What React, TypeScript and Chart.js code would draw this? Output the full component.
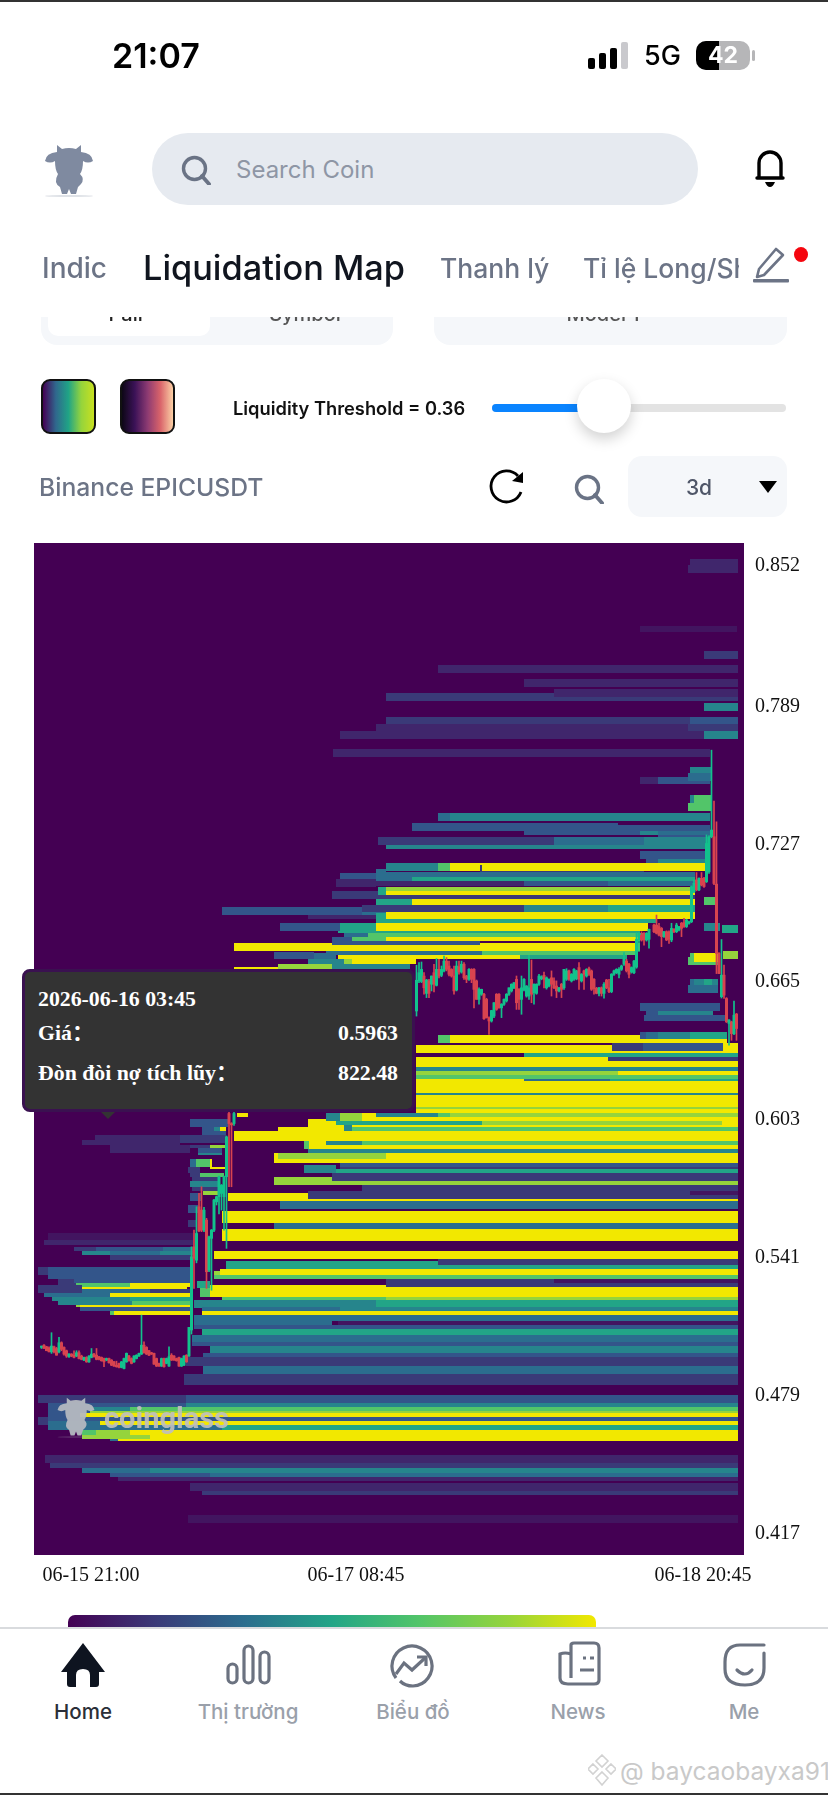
import React, { useEffect, useRef } from "react";
import { Chart, registerables } from "chart.js";

Chart.register(...registerables);

// ---------- data ----------
const yTicks = [0.852, 0.789, 0.727, 0.665, 0.603, 0.541, 0.479, 0.417];
const xTickBars = [18.8, 124.8, 263.6];
const xTickLabels = ["06-15 21:00", "06-17 08:45", "06-18 20:45"];
const priceMax = 0.8615;
const priceMin = 0.4067;
const barMin = -4;
const barMax = 280;

const levelColors = [
  "#421560", "#40266c", "#3a3a78", "#33558a", "#2b6d8e",
  "#26858c", "#22a587", "#52c569", "#95d43c", "#f2e800",
];

// rows: [top price, bottom price, [start bar, end bar, level]...]
const upperRows: any[] = [
  [0.8543, 0.8507, [258.4, 277.6, 1]],
  [0.8516, 0.848, [257.6, 277.6, 1]],
  [0.8242, 0.8215, [238.4, 277.2, 0]],
  [0.813, 0.8093, [264, 277.6, 2]],
  [0.8066, 0.803, [157.6, 277.6, 1]],
  [0.8003, 0.7968, [192, 277.6, 1]],
  [0.7941, 0.7905, [136.8, 204, 2]],
  [0.7923, 0.7905, [204, 277.6, 2]],
  [0.7959, 0.7923, [204, 277.6, 1]],
  [0.7896, 0.786, [264, 277.6, 5]],
  [0.7833, 0.7801, [136.8, 258.4, 2], [258.4, 277.6, 3]],
  [0.7801, 0.7765, [132.8, 257.6, 1], [257.6, 277.6, 2]],
  [0.777, 0.7734, [118.4, 264, 1], [264, 277.6, 5]],
  [0.7689, 0.7653, [115.6, 266.4, 1]],
  [0.7563, 0.7532, [238.4, 245.6, 1], [245.6, 266.4, 3]],
  [0.7608, 0.7572, [258.4, 267.2, 5]],
  [0.7581, 0.7545, [257.6, 267.2, 4]],
  [0.7482, 0.7446, [258.4, 260, 5], [260, 267.2, 7]],
  [0.7446, 0.741, [257.6, 267.2, 7]],
  [0.7401, 0.7365, [157.6, 162.4, 4], [162.4, 266.4, 5]],
  [0.7356, 0.7321, [147.2, 229.6, 3]],
  [0.7347, 0.7312, [229.6, 266.4, 3]],
  [0.7321, 0.7303, [192, 238.4, 3], [238.4, 245.6, 5], [245.6, 266.4, 4]],
  [0.7303, 0.7289, [245.6, 266.4, 3]],
  [0.7294, 0.7258, [133.6, 204, 2], [204, 240, 4], [240, 266.4, 5]],
  [0.7258, 0.724, [136.8, 266.4, 5]],
  [0.7231, 0.7195, [238.4, 265.2, 3]],
  [0.7195, 0.7177, [240.8, 245.6, 3], [245.6, 265.2, 5]],
  [0.7177, 0.7141, [136.8, 157.6, 5], [157.6, 162.4, 7], [162.4, 265.2, 9]],
  [0.7168, 0.7136, [174.4, 175.2, 2]],
  [0.7141, 0.7136, [174.4, 240, 2]],
  [0.715, 0.7114, [132.8, 136.8, 4]],
  [0.7136, 0.7114, [136.8, 260.4, 4]],
  [0.7132, 0.7096, [118.4, 132.8, 3]],
  [0.7114, 0.7096, [132.8, 147.2, 4], [147.2, 260.4, 6]],
  [0.7105, 0.7069, [116.8, 132.8, 1]],
  [0.7096, 0.7073, [132.8, 192, 1], [192, 225.6, 3], [225.6, 260.4, 4]],
  [0.7069, 0.7051, [136.8, 260.4, 8]],
  [0.7069, 0.7033, [133.6, 136.8, 6]],
  [0.7051, 0.7033, [136.8, 260.4, 9]],
  [0.7051, 0.7015, [115.2, 133.6, 2]],
  [0.7033, 0.7015, [133.6, 260.4, 2]],
  [0.7024, 0.6988, [264, 269.2, 7]],
  [0.7015, 0.6988, [132.8, 147.2, 6], [147.2, 260.4, 9]],
  [0.6988, 0.6956, [127.2, 192, 2], [192, 225.6, 5], [225.6, 260.4, 6]],
  [0.6979, 0.6943, [71.2, 127.2, 3]],
  [0.6956, 0.6943, [127.2, 141.6, 4]],
  [0.6943, 0.6925, [105.6, 132.8, 1]],
  [0.6952, 0.6925, [132.8, 136.8, 6]],
  [0.6956, 0.6925, [136.8, 260.4, 9]],
  [0.6925, 0.6907, [132.8, 245.2, 6]],
  [0.6907, 0.6871, [94.4, 118.4, 3], [118.4, 132.8, 6], [132.8, 241.6, 9], [264, 270.4, 5]],
  [0.6898, 0.6862, [271.2, 277.6, 6]],
  [0.6871, 0.6862, [117.6, 238.4, 6]],
  [0.6862, 0.6844, [120, 129.6, 4], [129.6, 242.4, 7]],
  [0.6844, 0.6826, [115.2, 123.2, 3], [123.2, 136.8, 7], [136.8, 238.4, 9]],
  [0.6817, 0.6781, [76, 238.4, 9]],
  [0.6826, 0.6808, [115.2, 174.4, 3]],
  [0.6781, 0.6763, [112.8, 175.2, 4], [175.2, 236.4, 7]],
  [0.6777, 0.6745, [92, 108, 3]],
  [0.6772, 0.6745, [108, 116.8, 4]],
  [0.6763, 0.6745, [117.6, 190.4, 9], [190.4, 233.2, 6]],
  [0.6781, 0.6745, [271.6, 277.6, 8]],
  [0.6754, 0.6718, [257.6, 270.4, 7]],
  [0.6772, 0.6732, [258.4, 260, 7], [260, 270.4, 9]],
  [0.6745, 0.6723, [105.6, 120, 5], [120, 123.2, 8], [123.2, 148.8, 9]],
  [0.6723, 0.67, [93.6, 115.2, 8], [115.2, 146.4, 5]],
  [0.6709, 0.67, [76, 93.6, 9]],
  [0.6655, 0.6619, [258.4, 260, 4], [260, 264, 5], [264, 267.2, 6], [267.2, 269.6, 5]],
  [0.6628, 0.6592, [257.6, 269.6, 4]],
  [0.6548, 0.6512, [238.4, 270.4, 3]],
  [0.6512, 0.6494, [240.8, 245.6, 3], [245.6, 267.6, 5]],
  [0.6494, 0.6467, [240, 273.2, 3]],
];

const middleRows: any[] = [
  [0.6417, 0.6386, [238.4, 240.8, 3], [240.8, 245.6, 4], [245.6, 258.4, 5], [258.4, 273.2, 6]],
  [0.6404, 0.6368, [157.6, 162.4, 7], [162.4, 238.4, 9]],
  [0.6386, 0.6368, [238.4, 273.2, 9]],
  [0.6359, 0.6323, [148.8, 227.2, 9]],
  [0.6368, 0.6332, [227.2, 239.6, 2], [239.6, 271.6, 3], [271.6, 277.6, 9]],
  [0.6332, 0.6323, [227.2, 277.6, 9]],
  [0.6323, 0.6305, [192, 226, 6], [226, 277.6, 6]],
  [0.6305, 0.6287, [148.8, 225.6, 9], [225.6, 277.6, 2]],
  [0.6287, 0.626, [148.8, 277.6, 9]],
  [0.626, 0.6242, [148.8, 277.6, 5]],
  [0.6242, 0.6224, [148.8, 229.6, 8], [229.6, 277.6, 9]],
  [0.6224, 0.6206, [148.8, 277.6, 7]],
  [0.6206, 0.6197, [148.8, 192, 9], [192, 226.4, 4], [226.4, 277.6, 6]],
  [0.6197, 0.6143, [148.8, 277.6, 9]],
  [0.6143, 0.6134, [148.8, 277.6, 5]],
  [0.6134, 0.608, [148.8, 277.6, 9]],
  [0.608, 0.6071, [148.8, 277.6, 8]],
  [0.6071, 0.6053, [148.8, 277.6, 9]],
  [0.6053, 0.6035, [77.2, 81.6, 9], [112.8, 118.4, 5], [118.4, 127.2, 8], [127.2, 132.8, 9], [132.8, 157.6, 5], [157.6, 162.4, 7], [162.4, 277.6, 8]],
  [0.6035, 0.6017, [112.8, 118.4, 5], [118.4, 127.2, 8], [127.2, 277.6, 9]],
  [0.6026, 0.6017, [105.6, 112.8, 9]],
  [0.6017, 0.5999, [105.6, 116.8, 9], [116.8, 175.2, 6], [175.2, 271.2, 8], [271.2, 277.6, 9]],
  [0.5999, 0.599, [105.6, 120, 9], [120, 123.2, 5], [123.2, 277.6, 9]],
  [0.599, 0.5972, [93.6, 120, 9], [120, 123.2, 5], [123.2, 277.6, 7]],
  [0.5972, 0.5927, [76, 277.6, 9]],
  [0.5927, 0.5909, [104, 106, 7], [106, 112.8, 9], [112.8, 127.2, 5], [127.2, 277.6, 7]],
  [0.5909, 0.5891, [104, 106, 7], [106, 277.6, 9]],
  [0.5891, 0.5873, [105.6, 277.6, 5]],
  [0.5873, 0.5846, [92, 93.6, 9], [93.6, 136.8, 8], [136.8, 277.6, 9]],
  [0.5846, 0.5828, [92, 277.6, 9]],
  [0.5828, 0.5811, [118.4, 277.6, 3]],
  [0.582, 0.5784, [104, 116.8, 5]],
  [0.5811, 0.5802, [118.4, 277.6, 2]],
  [0.5802, 0.5784, [116.8, 277.6, 6]],
  [0.5784, 0.5765, [115.2, 277.6, 2]],
  [0.5765, 0.5748, [92, 115.2, 8], [115.2, 277.6, 2]],
  [0.5748, 0.573, [92, 277.6, 8]],
  [0.573, 0.5703, [127.2, 277.6, 2]],
  [0.5703, 0.5667, [105.6, 277.6, 2]],
  [0.5703, 0.5685, [258.4, 277.6, 0]],
  [0.5694, 0.5667, [73.6, 105.6, 9]],
  [0.5667, 0.5658, [73.6, 277.6, 9]],
  [0.5658, 0.5622, [94.4, 277.6, 4]],
  [0.5613, 0.5559, [71.2, 277.6, 9]],
  [0.5559, 0.5532, [92, 277.6, 4]],
  [0.5532, 0.5478, [71.2, 277.6, 9]],
  [0.5433, 0.5397, [68, 277.6, 9]],
  [0.5397, 0.537, [157.6, 277.6, 2]],
  [0.5388, 0.5352, [72.8, 157.6, 6]],
  [0.537, 0.5352, [157.6, 277.6, 6]],
  [0.5343, 0.5307, [68, 70.4, 8]],
  [0.5352, 0.5325, [70.4, 277.6, 9]],
  [0.5325, 0.5307, [68, 277.6, 7]],
  [0.5307, 0.5271, [136.8, 277.6, 2]],
  [0.5307, 0.5289, [204, 277.6, 0]],
  [0.528, 0.5226, [66.4, 136.8, 9]],
  [0.5271, 0.5226, [136.8, 277.6, 9]],
  [0.5226, 0.5213, [71.2, 136.8, 7], [136.8, 277.6, 8]],
  [0.5213, 0.5177, [60, 132.8, 5], [132.8, 277.6, 6]],
  [0.5181, 0.5163, [63.2, 118.4, 4], [118.4, 277.6, 5]],
  [0.5163, 0.5145, [63.2, 277.6, 9]],
  [0.5145, 0.5118, [60, 277.6, 4]],
  [0.5118, 0.51, [60, 115.2, 4], [117.6, 277.6, 0]],
  [0.51, 0.5082, [60, 277.6, 3]],
  [0.5082, 0.5055, [63.2, 277.6, 6]],
  [0.5055, 0.5024, [59.2, 277.6, 4]],
  [0.5024, 0.5006, [59.2, 277.6, 3]],
  [0.5006, 0.4975, [66.4, 277.6, 5]],
  [0.4975, 0.4957, [63.6, 277.6, 3]],
  [0.4957, 0.4916, [56.8, 277.6, 2]],
  [0.4916, 0.488, [63.6, 277.6, 4]],
  [0.488, 0.4831, [56, 277.6, 2]],
];

const lowerRows: any[] = [
  [0.4786, 0.475, [-2.4, 56.8, 2], [56.8, 277.6, 3]],
  [0.475, 0.4732, [1.6, 56.8, 3], [56.8, 277.6, 5]],
  [0.4732, 0.4714, [1.6, 18.4, 3], [18.4, 34.4, 5], [34.4, 277.6, 7]],
  [0.4714, 0.4705, [1.6, 18.4, 3], [18.4, 277.6, 8]],
  [0.4705, 0.4687, [1.6, 14.4, 3], [14.4, 277.6, 9]],
  [0.4687, 0.4669, [-2.4, 1.6, 2], [1.6, 277.6, 3]],
  [0.4669, 0.4651, [-2.4, 1.6, 2], [1.6, 22.4, 4], [22.4, 277.6, 9]],
  [0.4651, 0.4629, [1.6, 71.2, 4], [71.2, 277.6, 6]],
  [0.4629, 0.4606, [15.2, 20.8, 7], [20.8, 34.4, 8], [34.4, 277.6, 9]],
  [0.4606, 0.4588, [15.2, 42.4, 8], [42.4, 277.6, 9]],
  [0.4588, 0.4579, [26.4, 29.6, 4], [29.6, 277.6, 9]],
  [0.4516, 0.448, [0.4, 277.6, 1]],
  [0.448, 0.4458, [2.4, 277.6, 2]],
  [0.4458, 0.4435, [15.2, 42.4, 4], [42.4, 277.6, 5]],
  [0.4435, 0.4417, [26.4, 66.4, 3], [66.4, 277.6, 4]],
  [0.4417, 0.4399, [29.6, 277.6, 1]],
  [0.439, 0.4355, [58.4, 277.6, 1]],
  [0.4355, 0.4336, [63.2, 277.6, 2]],
  [0.4246, 0.421, [57.6, 277.6, 0]],
];

const leftRows: any[] = [
  [0.5514, 0.5482, [1.6, 60.8, 0]],
  [0.5482, 0.546, [0, 59.6, 1]],
  [0.5451, 0.5433, [12, 20.8, 2], [20.8, 47.6, 3], [47.6, 59.6, 4]],
  [0.5433, 0.5415, [15.2, 26.4, 5], [26.4, 46.4, 4], [46.4, 59.6, 5]],
  [0.5415, 0.5393, [26.4, 59.6, 2]],
  [0.5361, 0.5325, [-2.4, 1.6, 2], [1.6, 59.6, 3]],
  [0.5325, 0.5307, [1.6, 59.6, 3]],
  [0.5307, 0.5289, [5.6, 12, 2], [12, 59.6, 3]],
  [0.5289, 0.5271, [5.6, 12.8, 2], [12.8, 34.4, 7], [34.4, 59.6, 9]],
  [0.528, 0.5244, [-2.4, 15.2, 2]],
  [0.5271, 0.5262, [15.2, 57.2, 9]],
  [0.5262, 0.5244, [15.2, 42.4, 4], [42.4, 58.4, 2]],
  [0.5244, 0.5226, [0, 26.4, 4], [26.4, 58.4, 9]],
  [0.5226, 0.5208, [3.2, 34.4, 5], [34.4, 58.4, 6]],
  [0.5208, 0.519, [5.6, 35.2, 5], [35.2, 58.4, 7]],
  [0.519, 0.5181, [12.8, 14.4, 8], [14.4, 58.4, 9]],
  [0.5181, 0.5163, [14.4, 58.4, 3]],
  [0.5163, 0.5145, [26.4, 28, 7], [28, 58.4, 9]],
  [0.6026, 0.599, [58.4, 73.6, 3]],
  [0.599, 0.5972, [63.2, 68, 3], [68, 70.4, 5], [70.4, 72.8, 9]],
  [0.5972, 0.5954, [63.2, 72.8, 3]],
  [0.5954, 0.5918, [54.4, 72.8, 2]],
  [0.5954, 0.5932, [20.4, 54.4, 1]],
  [0.5932, 0.5909, [15.2, 54.4, 1]],
  [0.5909, 0.5873, [26.4, 58.4, 1]],
  [0.5909, 0.5896, [58.4, 66.4, 2], [66.4, 73.6, 8]],
  [0.5896, 0.5873, [61.6, 71.2, 3]],
  [0.5873, 0.5864, [61.6, 71.2, 5]],
  [0.5846, 0.5811, [58.4, 60.8, 4], [60.8, 66.4, 7], [66.4, 67.2, 9]],
  [0.5811, 0.5802, [66.4, 72.8, 9]],
  [0.5811, 0.5784, [57.6, 62.4, 2]],
  [0.5784, 0.5765, [58.4, 62.4, 2], [62.4, 72, 7]],
  [0.5765, 0.5748, [59.2, 70.4, 2]],
  [0.5748, 0.5721, [58.4, 70.4, 5]],
  [0.5721, 0.5703, [59.2, 70.4, 2]],
  [0.5703, 0.5685, [63.6, 70.4, 8]],
  [0.5694, 0.5658, [58.4, 63.2, 3]],
  [0.564, 0.5604, [57.6, 61.6, 3]],
  [0.5572, 0.5541, [57.6, 61.2, 2]],
  [0.5298, 0.5267, [61.2, 66.4, 6]],
  [0.5267, 0.5226, [62.4, 66.4, 7]],
];

// candles: [bar, open, high, low, close]
const flatCandles = [
  [-1, 0.5, 0.5006, 0.4995, 0.5006], [0, 0.501, 0.5013, 0.4995, 0.4995], [1, 0.5003, 0.5005, 0.4985, 0.4985],
  [2, 0.4998, 0.5003, 0.498, 0.498], [3, 0.498, 0.5066, 0.4973, 0.5006], [4, 0.5003, 0.5006, 0.4975, 0.498],
  [5, 0.4995, 0.5, 0.4965, 0.4965], [6, 0.498, 0.5045, 0.4975, 0.5021], [7, 0.5021, 0.5025, 0.4985, 0.4991],
  [8, 0.5, 0.5003, 0.4965, 0.497], [9, 0.4985, 0.4988, 0.4955, 0.4961], [10, 0.4958, 0.4972, 0.4955, 0.497],
  [11, 0.497, 0.4972, 0.4958, 0.4961], [12, 0.4965, 0.4985, 0.4953, 0.4955], [13, 0.4961, 0.4985, 0.4958, 0.4976],
  [14, 0.4976, 0.4985, 0.4948, 0.495], [15, 0.4961, 0.4965, 0.4944, 0.4946], [16, 0.4943, 0.4957, 0.494, 0.4955],
  [17, 0.4955, 0.4958, 0.4933, 0.4935], [18, 0.4935, 0.4963, 0.4933, 0.4961], [19, 0.4955, 0.4995, 0.4953, 0.497],
  [20, 0.497, 0.4973, 0.4956, 0.4958], [21, 0.4965, 0.4995, 0.4944, 0.4946], [22, 0.4958, 0.496, 0.4944, 0.4946],
  [23, 0.4955, 0.4957, 0.4938, 0.494], [24, 0.495, 0.4952, 0.4913, 0.4935], [25, 0.4943, 0.4952, 0.494, 0.495],
  [26, 0.495, 0.4952, 0.4929, 0.4931], [27, 0.4943, 0.4945, 0.4918, 0.492], [28, 0.4935, 0.4937, 0.4914, 0.4916],
  [29, 0.492, 0.4938, 0.4911, 0.4913], [30, 0.4928, 0.493, 0.4908, 0.491], [31, 0.491, 0.4937, 0.4908, 0.4935],
  [32, 0.4905, 0.4952, 0.4903, 0.495], [33, 0.4935, 0.4975, 0.4933, 0.4973], [34, 0.4961, 0.4964, 0.4938, 0.494],
  [35, 0.495, 0.4953, 0.4926, 0.4928], [36, 0.4935, 0.4963, 0.4933, 0.4961], [37, 0.495, 0.4967, 0.4948, 0.4965],
  [38, 0.4961, 0.4975, 0.4959, 0.4973], [39, 0.497, 0.5145, 0.4968, 0.501], [40, 0.501, 0.5025, 0.4974, 0.4976],
  [41, 0.5, 0.5003, 0.4968, 0.497], [42, 0.4985, 0.4987, 0.4963, 0.4965], [43, 0.4976, 0.4978, 0.4968, 0.497],
  [44, 0.4973, 0.4975, 0.4923, 0.4925], [45, 0.495, 0.4952, 0.4914, 0.4916], [46, 0.4928, 0.493, 0.4914, 0.4916],
  [47, 0.4916, 0.4952, 0.4914, 0.495], [48, 0.495, 0.4952, 0.4911, 0.4913], [49, 0.4928, 0.4952, 0.4926, 0.495],
  [50, 0.4916, 0.5003, 0.4914, 0.4958], [51, 0.4965, 0.4972, 0.4941, 0.4943], [52, 0.4961, 0.4963, 0.4941, 0.4943],
  [53, 0.495, 0.4952, 0.4938, 0.494], [54, 0.4955, 0.4957, 0.4914, 0.4916], [55, 0.4916, 0.4952, 0.4914, 0.495],
  [56, 0.492, 0.4963, 0.4918, 0.4961], [57, 0.4965, 0.4967, 0.4933, 0.4935], [58, 0.4961, 0.509, 0.4959, 0.509],
];

const jumpCandles = [
  [59, 0.5078, 0.5452, 0.506, 0.5407], [60, 0.5452, 0.5527, 0.5265, 0.54], [61, 0.5392, 0.5632, 0.538, 0.5512],
  [62, 0.5632, 0.5692, 0.552, 0.5524], [63, 0.5617, 0.5722, 0.552, 0.5527], [64, 0.5527, 0.563, 0.552, 0.5617],
  [65, 0.5572, 0.558, 0.5265, 0.534], [66, 0.5347, 0.55, 0.534, 0.5497], [67, 0.549, 0.553, 0.5257, 0.5527],
  [68, 0.5527, 0.5665, 0.552, 0.5662], [69, 0.5654, 0.568, 0.564, 0.5677], [70, 0.5677, 0.577, 0.56, 0.5767],
  [71, 0.5692, 0.5732, 0.5617, 0.5729], [72, 0.5677, 0.577, 0.5527, 0.5767], [73, 0.5767, 0.595, 0.5445, 0.5946],
  [74, 0.6051, 0.606, 0.5722, 0.6006], [75, 0.6006, 0.601, 0.5722, 0.6], [76, 0.6006, 0.6065, 0.5998, 0.6051],
];

// behind the tooltip: only a rough path can be estimated
const hiddenCandles = [
  [79, 0.612, 0.618, 0.61, 0.617], [82, 0.617, 0.625, 0.616, 0.623], [85, 0.623, 0.631, 0.62, 0.629],
  [88, 0.629, 0.632, 0.622, 0.624], [91, 0.624, 0.637, 0.623, 0.635], [94, 0.635, 0.641, 0.633, 0.639],
  [97, 0.639, 0.642, 0.632, 0.634], [100, 0.634, 0.645, 0.632, 0.643], [103, 0.643, 0.649, 0.64, 0.647],
  [106, 0.647, 0.651, 0.642, 0.644], [109, 0.644, 0.653, 0.643, 0.651], [112, 0.651, 0.655, 0.646, 0.648],
  [115, 0.648, 0.652, 0.641, 0.643], [118, 0.643, 0.649, 0.641, 0.647], [121, 0.647, 0.654, 0.645, 0.652],
  [124, 0.652, 0.657, 0.649, 0.651], [127, 0.651, 0.655, 0.644, 0.646], [130, 0.646, 0.652, 0.644, 0.65],
  [133, 0.65, 0.658, 0.648, 0.656], [136, 0.656, 0.659, 0.65, 0.652], [139, 0.652, 0.657, 0.649, 0.655],
  [142, 0.655, 0.66, 0.651, 0.653], [145, 0.653, 0.657, 0.65, 0.655],
];

const rangeCandles = [
  [148, 0.6557, 0.6579, 0.6426, 0.6512], [149, 0.6512, 0.6717, 0.6489, 0.665], [150, 0.6647, 0.6729, 0.6639, 0.6684],
  [151, 0.6644, 0.6732, 0.6639, 0.6699], [152, 0.6669, 0.6684, 0.6587, 0.6616], [153, 0.6591, 0.6654, 0.6572, 0.6651],
  [154, 0.6647, 0.6654, 0.6572, 0.6591], [155, 0.6632, 0.6669, 0.6602, 0.6669], [156, 0.6684, 0.6722, 0.6597, 0.6632],
  [157, 0.6627, 0.6747, 0.6624, 0.6699], [158, 0.6699, 0.6744, 0.6661, 0.6669], [159, 0.6672, 0.6714, 0.6666, 0.6699],
  [160, 0.6692, 0.6759, 0.6687, 0.6736], [161, 0.6736, 0.6752, 0.6692, 0.6699], [162, 0.6714, 0.6736, 0.6669, 0.6677],
  [163, 0.6699, 0.6702, 0.6664, 0.6669], [164, 0.6669, 0.6714, 0.6587, 0.6602], [165, 0.6606, 0.6736, 0.6602, 0.6714],
  [166, 0.6711, 0.6736, 0.6677, 0.6687], [167, 0.6687, 0.6736, 0.6682, 0.6722], [168, 0.6722, 0.6729, 0.6654, 0.6661],
  [169, 0.6669, 0.6672, 0.6639, 0.6654], [170, 0.6654, 0.6702, 0.6649, 0.6699], [171, 0.6699, 0.6702, 0.6639, 0.6654],
  [172, 0.6699, 0.6702, 0.6526, 0.6609], [173, 0.6647, 0.6651, 0.6564, 0.6564], [174, 0.6564, 0.6616, 0.6542, 0.6609],
  [175, 0.6587, 0.661, 0.6582, 0.6609], [176, 0.6587, 0.6591, 0.6474, 0.6477], [177, 0.6564, 0.6569, 0.648, 0.6482],
  [178, 0.6482, 0.6486, 0.6406, 0.6467], [179, 0.6467, 0.6515, 0.6462, 0.6514], [180, 0.6489, 0.655, 0.6482, 0.6549],
  [181, 0.6587, 0.659, 0.6515, 0.6519], [182, 0.6587, 0.659, 0.6524, 0.6526], [183, 0.6526, 0.6545, 0.6482, 0.6542],
  [184, 0.6542, 0.6566, 0.6537, 0.6564], [185, 0.6557, 0.659, 0.6552, 0.6587], [186, 0.6587, 0.6616, 0.6582, 0.6616],
  [187, 0.6602, 0.6634, 0.6597, 0.6632], [188, 0.6616, 0.664, 0.6612, 0.6639], [189, 0.6654, 0.6669, 0.6519, 0.6549],
  [190, 0.6609, 0.6612, 0.6519, 0.6564], [191, 0.6564, 0.6669, 0.6497, 0.6616], [192, 0.6606, 0.6657, 0.6602, 0.6654],
  [193, 0.6579, 0.6626, 0.6574, 0.6624], [194, 0.6579, 0.6762, 0.6564, 0.6616], [195, 0.6654, 0.6741, 0.6549, 0.6587],
  [196, 0.6594, 0.6634, 0.6542, 0.6632], [197, 0.6591, 0.6634, 0.6587, 0.6632], [198, 0.6632, 0.6677, 0.6627, 0.6669],
  [199, 0.6657, 0.667, 0.6652, 0.6666], [200, 0.6672, 0.6687, 0.6616, 0.6654], [201, 0.6616, 0.6665, 0.661, 0.6661],
  [202, 0.6624, 0.6656, 0.662, 0.6654], [203, 0.6661, 0.6692, 0.6579, 0.6632], [204, 0.6647, 0.6661, 0.6612, 0.6616],
  [205, 0.6624, 0.6647, 0.6572, 0.6602], [206, 0.6602, 0.6618, 0.6597, 0.6616], [207, 0.6632, 0.6636, 0.6572, 0.6609],
  [208, 0.6616, 0.6699, 0.6609, 0.6699], [209, 0.6654, 0.6702, 0.6649, 0.6692], [210, 0.6692, 0.6696, 0.6649, 0.6654],
  [211, 0.6647, 0.668, 0.6642, 0.6677], [212, 0.6654, 0.6702, 0.6649, 0.6699], [213, 0.6657, 0.6695, 0.6652, 0.6692],
  [214, 0.6707, 0.6729, 0.6609, 0.6654], [215, 0.6647, 0.668, 0.6642, 0.6677], [216, 0.6692, 0.6696, 0.6609, 0.6677],
  [217, 0.6669, 0.6702, 0.6664, 0.6699], [218, 0.6702, 0.6709, 0.6672, 0.6677], [219, 0.6692, 0.6696, 0.6604, 0.6609],
  [220, 0.6654, 0.6657, 0.6587, 0.6612], [221, 0.6614, 0.6618, 0.6589, 0.6591], [222, 0.6591, 0.6618, 0.6579, 0.6616],
  [223, 0.6616, 0.662, 0.6579, 0.6591], [224, 0.6591, 0.6639, 0.6569, 0.6632], [225, 0.6651, 0.6654, 0.6612, 0.6616],
  [226, 0.6616, 0.6654, 0.6594, 0.6599], [227, 0.6599, 0.668, 0.6594, 0.6677], [228, 0.6677, 0.6696, 0.6672, 0.6692],
  [229, 0.6684, 0.6702, 0.668, 0.6699], [230, 0.6677, 0.6707, 0.6661, 0.6699], [231, 0.6699, 0.6718, 0.6694, 0.6714],
  [232, 0.6722, 0.6774, 0.6717, 0.6744], [233, 0.6736, 0.6744, 0.6687, 0.6692], [234, 0.6722, 0.6726, 0.6661, 0.6677],
  [235, 0.6687, 0.671, 0.6682, 0.6707], [236, 0.6684, 0.674, 0.668, 0.6736], [237, 0.6709, 0.6864, 0.6704, 0.6834],
  [238, 0.6831, 0.6864, 0.6779, 0.6861], [239, 0.6853, 0.6868, 0.6826, 0.6831], [240, 0.6861, 0.6864, 0.6808, 0.6831],
  [241, 0.6831, 0.6864, 0.6826, 0.6861], [242, 0.6834, 0.688, 0.6794, 0.6879], [244, 0.6898, 0.6902, 0.6864, 0.6868],
  [245, 0.6898, 0.6943, 0.6858, 0.6861], [246, 0.6891, 0.6906, 0.6849, 0.6853], [247, 0.6883, 0.6887, 0.6801, 0.6846],
  [248, 0.6846, 0.687, 0.6842, 0.6868], [249, 0.6868, 0.6872, 0.6828, 0.6831], [250, 0.6868, 0.6872, 0.6816, 0.6834],
  [251, 0.6831, 0.6906, 0.6823, 0.6883], [252, 0.6879, 0.6882, 0.6864, 0.6868], [253, 0.6868, 0.6906, 0.6864, 0.6898],
  [254, 0.6876, 0.6892, 0.6872, 0.6891], [255, 0.6906, 0.691, 0.6846, 0.6883], [256, 0.6909, 0.6928, 0.6887, 0.6891],
  [257, 0.6891, 0.6924, 0.6887, 0.6921], [258, 0.6906, 0.6916, 0.6902, 0.6913], [259, 0.6913, 0.7074, 0.6909, 0.7071],
  [260, 0.7048, 0.7101, 0.7044, 0.7086], [261, 0.7101, 0.7134, 0.7052, 0.7056], [262, 0.7056, 0.711, 0.7052, 0.7108],
  [263, 0.7108, 0.7134, 0.7074, 0.7078], [264, 0.7108, 0.7112, 0.7067, 0.7071],
];

const spikeCandles = [
  [265, 0.7093, 0.7303, 0.7089, 0.7265], [266, 0.7137, 0.73, 0.713, 0.7295], [267, 0.7295, 0.7684, 0.729, 0.7325],
  [268, 0.7295, 0.7455, 0.708, 0.7085], [269, 0.7082, 0.7362, 0.668, 0.677], [270, 0.677, 0.6774, 0.668, 0.668],
  [271, 0.6576, 0.6833, 0.657, 0.6673], [272, 0.6673, 0.6718, 0.6568, 0.6583], [273, 0.6568, 0.6572, 0.646, 0.6463],
  [274, 0.6456, 0.6473, 0.6358, 0.6471], [275, 0.6463, 0.6466, 0.638, 0.641], [276, 0.641, 0.6556, 0.6405, 0.6493],
  [277, 0.6498, 0.6501, 0.638, 0.6433],
];

const UP = "#12c28c";
const DOWN = "#d8434f";
const allRows = [...upperRows, ...middleRows, ...lowerRows, ...leftRows];
const allCandles = [...flatCandles, ...jumpCandles, ...hiddenCandles, ...rangeCandles, ...spikeCandles];

// ---------- chart ----------
const bandPlugin = {
  id: "bands",
  beforeDatasetsDraw(chart: any) {
    const { ctx, chartArea: a, scales } = chart;
    ctx.save();
    ctx.fillStyle = "#440053";
    ctx.fillRect(a.left, a.top, a.right - a.left, a.bottom - a.top);
    for (const b of chart.data.datasets[2].data) {
      const x0 = Math.round(scales.x.getPixelForValue(b.x));
      const x1 = Math.round(scales.x.getPixelForValue(b.x2));
      const y0 = Math.round(scales.y.getPixelForValue(b.y));
      const y1 = Math.round(scales.y.getPixelForValue(b.y2));
      ctx.fillStyle = levelColors[b.level];
      ctx.fillRect(x0, y0, x1 - x0, y1 - y0);
    }
    ctx.restore();
  },
};

function LiquidationChart() {
  const ref = useRef<HTMLCanvasElement>(null);
  useEffect(() => {
    const bandData: any[] = [];
    for (const [top, bottom, ...segs] of allRows) {
      for (const [s, e, level] of segs) bandData.push({ x: s, x2: e, y: top, y2: bottom, level });
    }
    const colors = allCandles.map((c) => (c[4] >= c[1] ? UP : DOWN));
    const chart = new Chart(ref.current!, {
      type: "bar",
      data: {
        datasets: [
          {
            label: "Body",
            data: allCandles.map((c) => ({ x: c[0], y: [c[1], c[4]] })),
            backgroundColor: colors,
            barThickness: 2.3,
            grouped: false,
            minBarLength: 1,
          },
          {
            label: "Wick",
            data: allCandles.map((c) => ({ x: c[0], y: [c[3], c[2]] })),
            backgroundColor: colors,
            barThickness: 1,
            grouped: false,
          },
          {
            type: "scatter",
            label: "Liquidation leverage",
            data: bandData,
            pointRadius: 0,
            showLine: false,
          },
        ],
      } as any,
      options: {
        animation: false,
        responsive: false,
        events: [],
        layout: { padding: { left: 34, top: 543, right: 0, bottom: 0 } },
        plugins: { legend: { display: false }, tooltip: { enabled: false } },
        scales: {
          x: {
            type: "linear",
            min: barMin,
            max: barMax,
            offset: false,
            grid: { display: false },
            border: { display: false },
            afterBuildTicks: (axis: any) => {
              axis.ticks = xTickBars.map((v) => ({ value: v }));
            },
            afterFit: (axis: any) => {
              axis.height = 45;
            },
            ticks: {
              autoSkip: false,
              maxRotation: 0,
              minRotation: 0,
              padding: 1,
              color: "#111",
              font: { family: "Liberation Serif", size: 20 },
              callback: (_v: any, i: number) => xTickLabels[i],
            },
          },
          y: {
            position: "right",
            min: priceMin,
            max: priceMax,
            grid: { display: false },
            border: { display: false },
            afterBuildTicks: (axis: any) => {
              axis.ticks = yTicks.map((v) => ({ value: v }));
            },
            afterFit: (axis: any) => {
              axis.width = 84;
            },
            ticks: {
              padding: 3,
              labelOffset: 2,
              color: "#111",
              font: { family: "Liberation Serif", size: 20 },
              callback: (v: any) => Number(v).toFixed(3),
            },
          },
        },
      } as any,
      plugins: [bandPlugin],
    });
    return () => chart.destroy();
  }, []);
  return <canvas ref={ref} width={828} height={1600} style={{ position: "absolute", left: 0, top: 0 }} />;
}

// ---------- page furniture ----------
const abs = (left: number, top: number, extra: any = {}) => ({ position: "absolute", left, top, ...extra });
const UI = "Inter, 'Noto Sans', sans-serif";

function Txt({ x, cy, size, color = "#000", weight = 400, center, children, family = UI, right }: any) {
  const style: any = {
    position: "absolute",
    top: cy - size,
    height: size * 2,
    lineHeight: `${size * 2}px`,
    fontSize: size,
    fontWeight: weight,
    color,
    fontFamily: family,
    whiteSpace: "nowrap",
  };
  if (center) {
    style.left = x - 150;
    style.width = 300;
    style.textAlign = "center";
  } else if (right) {
    style.right = 828 - x;
  } else style.left = x;
  return <div style={style}>{children}</div>;
}

function Cow({ x, y, w, h, color }: any) {
  return (
    <svg style={abs(x, y) as any} width={w} height={h} viewBox="0 0 52 54">
      <path
        fill={color}
        d="M14 2 L19 6 Q26 4 33 6 L38 2 L38 9 Q49 10 50 18 Q45 21 40 18 Q40 27 37 31 Q42 36 38 41 L35 44 L33 51 L28 51 L26 46 L24 51 L19 51 L17 44 Q10 40 15 31 Q12 27 12 18 Q7 21 2 18 Q3 10 14 9 Z"
      />
      <ellipse cx="26" cy="53" rx="24" ry="1" fill={color} opacity="0.25" />
    </svg>
  );
}

function SearchIcon({ x, y, s, color }: any) {
  return (
    <svg style={abs(x, y) as any} width={s} height={s} viewBox="0 0 30 30">
      <circle cx="13.5" cy="13.5" r="11" fill="none" stroke={color} strokeWidth="3.4" />
      <line x1="21" y1="21" x2="28" y2="29" stroke={color} strokeWidth="3.8" strokeLinecap="round" />
    </svg>
  );
}

const navGray = "#6b7280";

function NavIcons() {
  return (
    <svg style={abs(0, 1628) as any} width={828} height={70}>
      <path d="M83 15 L105 44 L99 44 L99 56 Q99 59 96 59 L90 59 L90 47 Q90 41 83 41 Q76 41 76 47 L76 59 L70 59 Q67 59 67 56 L67 44 L61 44 Z" fill="#0e1420" />
      <g fill="none" stroke={navGray} strokeWidth="3.2">
        <rect x="228" y="36" width="9" height="19" rx="4.5" />
        <rect x="244" y="18" width="9" height="37" rx="4.5" />
        <rect x="260" y="24" width="9" height="31" rx="4.5" />
        <path d="M396 50 A20 20 0 1 1 413 58 Q405 58 400 53" />
        <path d="M396 46 L404 35 L412 42 L425 30" />
        <path d="M417 29 L426 29 L426 38" />
        <path d="M571 26 L571 17 Q571 15 574 15 L594 15 Q599 15 599 20 L599 52 Q599 56 594 56 L568 56 Q560 56 560 50 L560 26 Q565 24 571 26 L571 50" />
        <path d="M583 30 L586 30 M590 30 L594 30 M580 42 L594 42" />
        <path d="M764 17 L740 17 Q725 17 725 34 L725 41 Q725 57 745 57 Q764 57 764 40 L764 25" strokeLinecap="round" />
        <path d="M737 42 Q745 50 752 42" strokeLinecap="round" />
      </g>
    </svg>
  );
}

function Tooltip() {
  const serif = "'Liberation Serif', 'Noto Sans CJK SC', serif";
  return (
    <>
      <svg style={abs(94, 1108) as any} width={28} height={12}>
        <path d="M3 0 L25 0 L14 11 Z" fill="#333" />
      </svg>
      <div
        style={abs(22, 969, {
          width: 393,
          height: 143,
          background: "#333",
          border: "3px solid #3a1150",
          borderRadius: 8,
          boxSizing: "border-box",
        }) as any}
      />
      <Txt x={38} cy={1000} size={21.8} color="#fff" weight={700} family={serif}>2026-06-16 03:45</Txt>
      <Txt x={38} cy={1034} size={21.8} color="#fff" weight={700} family={serif}>Giá：</Txt>
      <Txt x={398} cy={1034} size={21.8} color="#fff" weight={700} family={serif} right>0.5963</Txt>
      <Txt x={38} cy={1074} size={21.8} color="#fff" weight={700} family={serif}>Đòn đòi nợ tích lũy：</Txt>
      <Txt x={398} cy={1074} size={21.8} color="#fff" weight={700} family={serif} right>822.48</Txt>
    </>
  );
}

export default function App() {
  const gray = "#6c7486";
  return (
    <div style={{ position: "absolute", left: 0, top: 0, width: 828, height: 1795, background: "#fff", overflow: "hidden" }}>
      <LiquidationChart />

      {/* frame lines */}
      <div style={abs(0, 0, { width: 828, height: 2, background: "#333" }) as any} />
      <div style={abs(0, 1793, { width: 828, height: 2, background: "#333" }) as any} />

      {/* status bar */}
      <Txt x={112} cy={56} size={34} weight={600} color="#000">21:07</Txt>
      <svg style={abs(586, 40) as any} width={46} height={32}>
        <rect x="2" y="18" width="7" height="11" rx="2" fill="#000" />
        <rect x="13" y="13" width="7" height="16" rx="2" fill="#000" />
        <rect x="24" y="8" width="7" height="21" rx="2" fill="#000" />
        <rect x="35" y="2" width="7" height="27" rx="2" fill="#c9c9cd" />
      </svg>
      <Txt x={644} cy={56} size={27} weight={500} color="#000">5G</Txt>
      <div style={abs(696, 41, { width: 54, height: 29, borderRadius: 10, overflow: "hidden", background: "#b6b6b8" }) as any}>
        <div style={{ width: 23, height: 29, background: "#000" }} />
        <div style={{ position: "absolute", left: 0, top: 0, width: 54, height: 29, lineHeight: "29px", textAlign: "center", color: "#fff", fontFamily: UI, fontWeight: 700, fontSize: 23 }}>42</div>
      </div>
      <div style={abs(752, 50, { width: 3, height: 11, borderRadius: 2, background: "#b6b6b8" }) as any} />

      {/* search row */}
      <Cow x={43} y={143} w={52} h={54} color="#7f8aa0" />
      <div style={abs(152, 133, { width: 546, height: 72, borderRadius: 36, background: "#e6eaf0" }) as any} />
      <SearchIcon x={181} y={155} s={30} color="#6a7385" />
      <Txt x={236} cy={170} size={24} color="#8e96a5">Search Coin</Txt>
      <svg style={abs(755, 149) as any} width={30} height={40} viewBox="0 0 30 40">
        <path d="M4 28 L4 14 A11 11 0 0 1 26 14 L26 28" fill="none" stroke="#000" strokeWidth="3.4" />
        <line x1="2" y1="29" x2="28" y2="29" stroke="#000" strokeWidth="3.4" strokeLinecap="round" />
        <path d="M10 33 L20 33 Q18 38 15 38 Q12 38 10 33 Z" fill="#000" />
      </svg>

      {/* tabs */}
      <Txt x={42} cy={268} size={28} color={gray} weight={500}>Indic</Txt>
      <Txt x={143} cy={268} size={34.3} color="#10151f" weight={500}>Liquidation Map</Txt>
      <Txt x={440} cy={268} size={26.5} color={gray} weight={500}>Thanh lý</Txt>
      <div style={abs(583, 240, { width: 156, height: 56, overflow: "hidden" }) as any}>
        <Txt x={0} cy={28} size={26.5} color={gray} weight={500}>Tỉ lệ Long/Short</Txt>
      </div>
      <svg style={abs(752, 246) as any} width={40} height={38} viewBox="0 0 40 38">
        <path d="M24 3 L31 9 L12 29 L5 31 L7 23 Z" fill="none" stroke={gray} strokeWidth="2.6" strokeLinejoin="round" />
        <rect x="1" y="33" width="36" height="3.4" rx="1" fill={gray} />
      </svg>
      <div style={abs(794, 247, { width: 14, height: 15, borderRadius: "50%", background: "#f5060f" }) as any} />

      {/* clipped selector panels */}
      <div style={abs(41, 317, { width: 352, height: 28, background: "#f5f7fa", borderRadius: "0 0 16px 16px", overflow: "hidden" }) as any}>
        <div style={{ position: "absolute", left: 7, top: 0, width: 162, height: 19, background: "#fff", borderRadius: "0 0 10px 10px" }} />
        <Txt x={86} cy={-3} size={20} color="#222" weight={500} center>Pair</Txt>
        <Txt x={264} cy={-3} size={20} color="#555" weight={500} center>Symbol</Txt>
      </div>
      <div style={abs(434, 317, { width: 353, height: 28, background: "#f5f7fa", borderRadius: "0 0 16px 16px", overflow: "hidden" }) as any}>
        <Txt x={169} cy={-3} size={20} color="#555" weight={500} center>Model 1</Txt>
      </div>

      {/* colour swatches + slider */}
      <div style={abs(41, 379, { width: 55, height: 55, boxSizing: "border-box", border: "2px solid #111", borderRadius: 9, background: "linear-gradient(90deg,#440154,#30678d,#20a486,#95d43c,#c8e020)" }) as any} />
      <div style={abs(120, 379, { width: 55, height: 55, boxSizing: "border-box", border: "2px solid #111", borderRadius: 9, background: "linear-gradient(90deg,#0d0716,#3b1257,#8c3a72,#d9636a,#fbd0a5)" }) as any} />
      <Txt x={233} cy={408} size={18.3} weight={600} color="#111">Liquidity Threshold = 0.36</Txt>
      <div style={abs(492, 404, { width: 294, height: 8, borderRadius: 4, background: "#e3e3e3" }) as any} />
      <div style={abs(492, 404, { width: 92, height: 8, borderRadius: 4, background: "#0a84ff" }) as any} />
      <div style={abs(577, 379, { width: 54, height: 54, borderRadius: "50%", background: "#fff", boxShadow: "0 6px 14px rgba(0,0,0,0.18)" }) as any} />

      {/* symbol row */}
      <Txt x={39} cy={488} size={24.7} color={gray} weight={500}>Binance EPICUSDT</Txt>
      <svg style={abs(488, 468) as any} width={38} height={38} viewBox="0 0 38 38">
        <path d="M30 8 A15.5 15.5 0 1 0 33 24" fill="none" stroke="#000" strokeWidth="2.8" />
        <path d="M24 13 L35 4 L35 15 Z" fill="#000" />
      </svg>
      <SearchIcon x={574} y={474} s={30} color="#6a7385" />
      <div style={abs(628, 456, { width: 159, height: 61, borderRadius: 14, background: "#f5f7fa" }) as any} />
      <Txt x={699} cy={488} size={21} color="#4f5668" weight={500} center>3d</Txt>
      <svg style={abs(759, 481) as any} width={18} height={12}>
        <path d="M0 0 L18 0 L9 12 Z" fill="#000" />
      </svg>

      {/* watermark in the plot */}
      <Cow x={56} y={1395} w={40} h={44} color="rgba(180,184,192,0.95)" />
      <Txt x={104} cy={1418} size={29} color="rgba(190,190,190,0.92)" weight={700} family="Roboto">coinglass</Txt>

      <Tooltip />

      {/* legend bar and navigation */}
      <div style={abs(68, 1615, { width: 528, height: 12, borderRadius: "7px 7px 0 0", background: "linear-gradient(90deg,#440154,#3a3a78,#2b6d8e,#22a587,#52c569,#95d43c,#f2e800)" }) as any} />
      <div style={abs(0, 1627, { width: 828, height: 2, background: "#d9dbde" }) as any} />
      <NavIcons />
      <Txt x={83} cy={1711} size={20.5} color="#2b2f38" weight={500} center>Home</Txt>
      <Txt x={248} cy={1711} size={20.5} color="#9aa0aa" weight={500} center>Thị trường</Txt>
      <Txt x={413} cy={1711} size={20.5} color="#9aa0aa" weight={500} center>Biểu đồ</Txt>
      <Txt x={578} cy={1711} size={20.5} color="#9aa0aa" weight={500} center>News</Txt>
      <Txt x={744} cy={1711} size={20.5} color="#9aa0aa" weight={500} center>Me</Txt>

      {/* corner watermark */}
      <svg style={abs(588, 1754) as any} width={28} height={32} viewBox="0 0 28 32">
        <path d="M14 1 L20 7 L14 13 L8 7 Z M5 10 L10 15 L5 20 L0 15 Z M23 10 L28 15 L23 20 L18 15 Z M14 18 L20 24 L14 31 L8 24 Z" fill="none" stroke="#d2d2d2" strokeWidth="1.6" />
      </svg>
      <Txt x={620} cy={1771} size={24.5} color="#c9c9c9" family="Inter">@ baycaobayxa91</Txt>
    </div>
  );
}
